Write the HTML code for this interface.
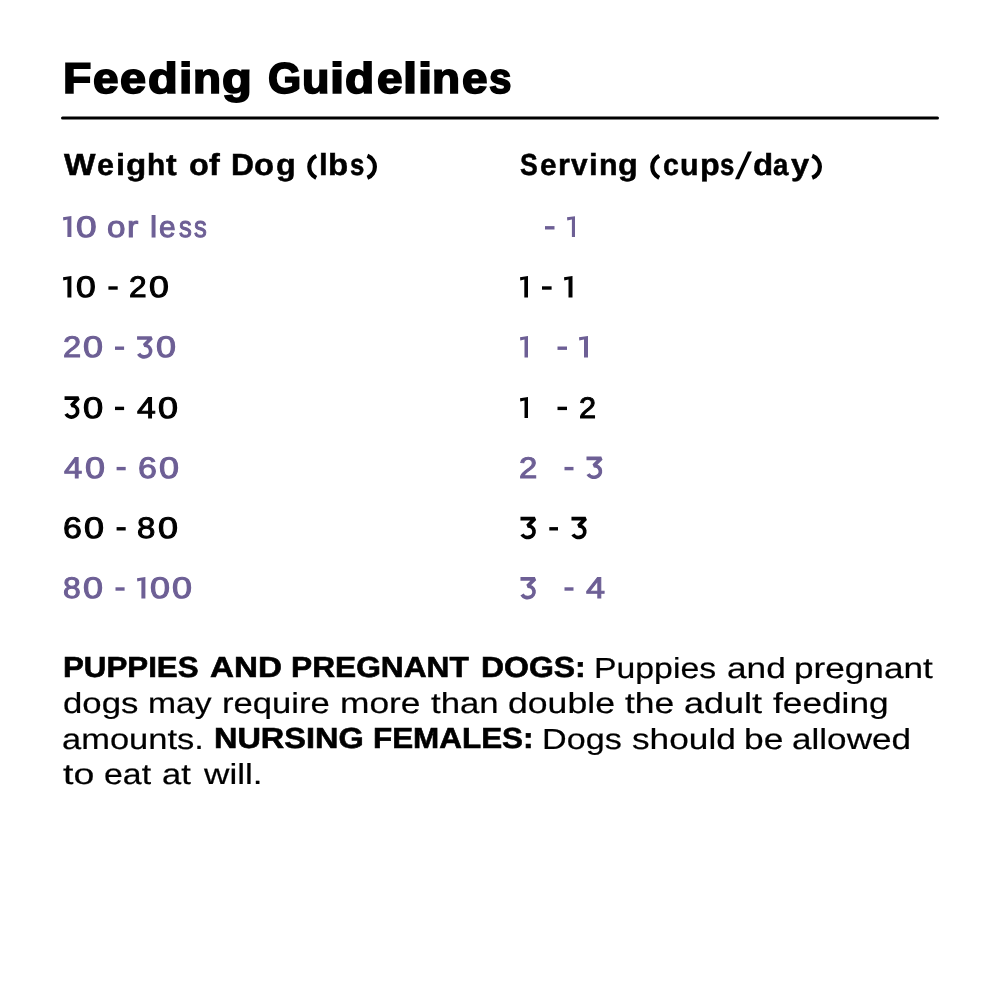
<!DOCTYPE html>
<html><head><meta charset="utf-8"><style>
html,body{margin:0;padding:0;background:#fff;}
body{width:1000px;height:1000px;position:relative;overflow:hidden;font-family:"Liberation Sans",sans-serif;}
span{position:absolute;white-space:pre;line-height:1;transform-origin:0 0;font-kerning:none;text-rendering:geometricPrecision;}
svg{display:block;}
#w{position:absolute;left:0;top:0;width:1000px;height:1000px;will-change:transform;}
</style></head><body><div id="w">
<svg style="position:absolute;left:0;top:0" width="1000" height="200"><line x1="62.5" y1="118" x2="937.5" y2="118" stroke="#000" stroke-width="3" stroke-linecap="round"/></svg>
<span style="left:62.81px;top:58px;font-size:43.02px;font-weight:700;color:#000;transform:scaleX(1.0797);-webkit-text-stroke:1.70px #000">F</span>
<span style="left:92.61px;top:58px;font-size:43.02px;font-weight:700;color:#000;transform:scaleX(1.0679);-webkit-text-stroke:1.70px #000">e</span>
<span style="left:120.09px;top:58px;font-size:43.02px;font-weight:700;color:#000;transform:scaleX(1.0901);-webkit-text-stroke:1.70px #000">e</span>
<span style="left:147.96px;top:58px;font-size:43.02px;font-weight:700;color:#000;transform:scaleX(1.1335);-webkit-text-stroke:1.70px #000">d</span>
<span style="left:178.59px;top:58px;font-size:43.02px;font-weight:700;color:#000;transform:scaleX(1.1180);-webkit-text-stroke:1.70px #000">i</span>
<span style="left:192.88px;top:58px;font-size:43.02px;font-weight:700;color:#000;transform:scaleX(1.0679);-webkit-text-stroke:1.70px #000">n</span>
<span style="left:222.46px;top:58px;font-size:43.02px;font-weight:700;color:#000;transform:scaleX(1.1356);-webkit-text-stroke:1.70px #000">g</span>
<span style="left:267.59px;top:58px;font-size:43.02px;font-weight:700;color:#000;transform:scaleX(0.9925);-webkit-text-stroke:1.70px #000">G</span>
<span style="left:301.60px;top:58px;font-size:43.02px;font-weight:700;color:#000;transform:scaleX(1.0456);-webkit-text-stroke:1.70px #000">u</span>
<span style="left:330.45px;top:58px;font-size:43.02px;font-weight:700;color:#000;transform:scaleX(1.1838);-webkit-text-stroke:1.70px #000">i</span>
<span style="left:345.48px;top:58px;font-size:43.02px;font-weight:700;color:#000;transform:scaleX(1.1122);-webkit-text-stroke:1.70px #000">d</span>
<span style="left:376.61px;top:58px;font-size:43.02px;font-weight:700;color:#000;transform:scaleX(1.0679);-webkit-text-stroke:1.70px #000">e</span>
<span style="left:403.45px;top:58px;font-size:43.02px;font-weight:700;color:#000;transform:scaleX(1.1838);-webkit-text-stroke:1.70px #000">l</span>
<span style="left:417.95px;top:58px;font-size:43.02px;font-weight:700;color:#000;transform:scaleX(1.1838);-webkit-text-stroke:1.70px #000">i</span>
<span style="left:432.38px;top:58px;font-size:43.02px;font-weight:700;color:#000;transform:scaleX(1.0679);-webkit-text-stroke:1.70px #000">n</span>
<span style="left:461.61px;top:58px;font-size:43.02px;font-weight:700;color:#000;transform:scaleX(1.0679);-webkit-text-stroke:1.70px #000">e</span>
<span style="left:489.38px;top:58px;font-size:43.02px;font-weight:700;color:#000;transform:scaleX(0.9396);-webkit-text-stroke:1.70px #000">s</span>
<span style="left:63.84px;top:150px;font-size:30.38px;font-weight:700;color:#000;transform:scaleX(1.0991);-webkit-text-stroke:0.50px #000">W</span>
<span style="left:97.46px;top:150px;font-size:30.38px;font-weight:700;color:#000;transform:scaleX(1.0019);-webkit-text-stroke:0.50px #000">e</span>
<span style="left:116.20px;top:150px;font-size:30.38px;font-weight:700;color:#000;transform:scaleX(1.0710);-webkit-text-stroke:0.50px #000">i</span>
<span style="left:125.91px;top:150px;font-size:30.38px;font-weight:700;color:#000;transform:scaleX(1.0901);-webkit-text-stroke:0.50px #000">g</span>
<span style="left:146.76px;top:150px;font-size:30.38px;font-weight:700;color:#000;transform:scaleX(0.9832);-webkit-text-stroke:0.50px #000">h</span>
<span style="left:166.47px;top:150px;font-size:30.38px;font-weight:700;color:#000;transform:scaleX(1.0532);-webkit-text-stroke:0.50px #000">t</span>
<span style="left:188.60px;top:150px;font-size:30.38px;font-weight:700;color:#000;transform:scaleX(1.0669);-webkit-text-stroke:0.50px #000">o</span>
<span style="left:209.11px;top:150px;font-size:30.38px;font-weight:700;color:#000;transform:scaleX(1.0633);-webkit-text-stroke:0.50px #000">f</span>
<span style="left:230.74px;top:150px;font-size:30.38px;font-weight:700;color:#000;transform:scaleX(1.0454);-webkit-text-stroke:0.50px #000">D</span>
<span style="left:254.19px;top:150px;font-size:30.38px;font-weight:700;color:#000;transform:scaleX(1.0789);-webkit-text-stroke:0.50px #000">o</span>
<span style="left:275.74px;top:150px;font-size:30.38px;font-weight:700;color:#000;transform:scaleX(1.0647);-webkit-text-stroke:0.50px #000">g</span>
<svg style="position:absolute;left:305px;top:152px" width="15" height="30"><path d="M11.20,3.80 A12.22,12.22 0 0 0 11.20,25.80" fill="none" stroke="#000" stroke-width="4.20"/></svg>
<span style="left:319.28px;top:150px;font-size:30.38px;font-weight:700;color:#000;transform:scaleX(1.0282);-webkit-text-stroke:0.50px #000">l</span>
<span style="left:328.49px;top:150px;font-size:30.38px;font-weight:700;color:#000;transform:scaleX(1.0880);-webkit-text-stroke:0.50px #000">b</span>
<span style="left:350.11px;top:150px;font-size:30.38px;font-weight:700;color:#000;transform:scaleX(0.8487);-webkit-text-stroke:0.50px #000">s</span>
<svg style="position:absolute;left:364px;top:152px" width="15" height="30"><path d="M3.40,3.80 A11.82,11.82 0 0 1 3.40,25.80" fill="none" stroke="#000" stroke-width="4.20"/></svg>
<span style="left:519.65px;top:150px;font-size:30.38px;font-weight:700;color:#000;transform:scaleX(0.8769);-webkit-text-stroke:0.50px #000">S</span>
<span style="left:540.09px;top:150px;font-size:30.38px;font-weight:700;color:#000;transform:scaleX(0.9756);-webkit-text-stroke:0.50px #000">e</span>
<span style="left:557.62px;top:150px;font-size:30.38px;font-weight:700;color:#000;transform:scaleX(1.0142);-webkit-text-stroke:0.50px #000">r</span>
<span style="left:571.13px;top:150px;font-size:30.38px;font-weight:700;color:#000;transform:scaleX(0.9800);-webkit-text-stroke:0.50px #000">v</span>
<span style="left:589.48px;top:150px;font-size:30.38px;font-weight:700;color:#000;transform:scaleX(1.0282);-webkit-text-stroke:0.50px #000">i</span>
<span style="left:598.84px;top:150px;font-size:30.38px;font-weight:700;color:#000;transform:scaleX(1.0019);-webkit-text-stroke:0.50px #000">n</span>
<span style="left:618.34px;top:150px;font-size:30.38px;font-weight:700;color:#000;transform:scaleX(1.0647);-webkit-text-stroke:0.50px #000">g</span>
<svg style="position:absolute;left:648px;top:152px" width="15" height="30"><path d="M11.20,3.80 A12.22,12.22 0 0 0 11.20,25.80" fill="none" stroke="#000" stroke-width="4.20"/></svg>
<span style="left:662.92px;top:150px;font-size:30.38px;font-weight:700;color:#000;transform:scaleX(0.9400);-webkit-text-stroke:0.50px #000">c</span>
<span style="left:680.16px;top:150px;font-size:30.38px;font-weight:700;color:#000;transform:scaleX(1.0019);-webkit-text-stroke:0.50px #000">u</span>
<span style="left:699.54px;top:150px;font-size:30.38px;font-weight:700;color:#000;transform:scaleX(1.0627);-webkit-text-stroke:0.50px #000">p</span>
<span style="left:720.31px;top:150px;font-size:30.38px;font-weight:700;color:#000;transform:scaleX(0.8487);-webkit-text-stroke:0.50px #000">s</span>
<svg style="position:absolute;left:734px;top:150px" width="19" height="31"><polygon points="13.90,1.60 17.90,1.60 5.10,29.30 1.00,29.30" fill="#000"/></svg>
<span style="left:752.72px;top:150px;font-size:30.38px;font-weight:700;color:#000;transform:scaleX(1.0880);-webkit-text-stroke:0.50px #000">d</span>
<span style="left:773.22px;top:150px;font-size:30.38px;font-weight:700;color:#000;transform:scaleX(0.9102);-webkit-text-stroke:0.50px #000">a</span>
<span style="left:790.61px;top:150px;font-size:30.38px;font-weight:700;color:#000;transform:scaleX(1.0709);-webkit-text-stroke:0.50px #000">y</span>
<svg style="position:absolute;left:809px;top:152px" width="15" height="30"><path d="M3.20,3.80 A11.71,11.71 0 0 1 3.20,25.80" fill="none" stroke="#000" stroke-width="4.20"/></svg>
<svg style="position:absolute;left:63.40px;top:215.90px" width="8.40" height="21.50" viewBox="0 0 8.40 21.50"><polygon points="0.00,1.30 8.40,0.00 8.40,21.50 4.40,21.50 4.40,3.40 0.30,4.60" fill="#6d5f95"/></svg>
<span style="left:75.97px;top:213px;font-size:29.80px;font-weight:400;color:#6d5f95;transform:scaleX(1.2463);-webkit-text-stroke:1.00px #6d5f95">0</span>
<span style="left:107.26px;top:213px;font-size:29.80px;font-weight:400;color:#6d5f95;transform:scaleX(1.1148);-webkit-text-stroke:1.00px #6d5f95">o</span>
<span style="left:127.42px;top:213px;font-size:29.80px;font-weight:400;color:#6d5f95;transform:scaleX(1.1361);-webkit-text-stroke:1.00px #6d5f95">r</span>
<span style="left:150.47px;top:213px;font-size:29.80px;font-weight:400;color:#6d5f95;transform:scaleX(1.0776);-webkit-text-stroke:1.00px #6d5f95">l</span>
<span style="left:159.43px;top:213px;font-size:29.80px;font-weight:400;color:#6d5f95;transform:scaleX(1.0011);-webkit-text-stroke:1.00px #6d5f95">e</span>
<span style="left:178.52px;top:213px;font-size:29.80px;font-weight:400;color:#6d5f95;transform:scaleX(0.8575);-webkit-text-stroke:1.00px #6d5f95">s</span>
<span style="left:194.12px;top:213px;font-size:29.80px;font-weight:400;color:#6d5f95;transform:scaleX(0.8575);-webkit-text-stroke:1.00px #6d5f95">s</span>
<svg style="position:absolute;left:544px;top:225px" width="12" height="6"><polygon points="1.00,1.10 10.50,1.10 10.50,4.50 1.00,4.50" fill="#6d5f95"/></svg>
<svg style="position:absolute;left:566.60px;top:215.90px" width="8.90" height="21.50" viewBox="0 0 8.90 21.50"><polygon points="0.00,1.30 8.90,0.00 8.90,21.50 4.90,21.50 4.90,3.40 0.30,4.60" fill="#6d5f95"/></svg>
<svg style="position:absolute;left:63.40px;top:276.10px" width="8.40" height="21.50" viewBox="0 0 8.40 21.50"><polygon points="0.00,1.30 8.40,0.00 8.40,21.50 4.40,21.50 4.40,3.40 0.30,4.60" fill="#000"/></svg>
<span style="left:76.01px;top:273px;font-size:29.80px;font-weight:400;color:#000;transform:scaleX(1.1938);-webkit-text-stroke:1.00px #000">0</span>
<svg style="position:absolute;left:107px;top:285px" width="12" height="6"><polygon points="1.40,1.30 10.70,1.30 10.70,4.70 1.40,4.70" fill="#000"/></svg>
<span style="left:129.44px;top:273px;font-size:29.80px;font-weight:400;color:#000;transform:scaleX(1.0634);-webkit-text-stroke:1.00px #000">2</span>
<span style="left:149.10px;top:273px;font-size:29.80px;font-weight:400;color:#000;transform:scaleX(1.2004);-webkit-text-stroke:1.00px #000">0</span>
<svg style="position:absolute;left:519.70px;top:276.10px" width="8.30" height="21.50" viewBox="0 0 8.30 21.50"><polygon points="0.00,1.30 8.30,0.00 8.30,21.50 4.30,21.50 4.30,3.40 0.30,4.60" fill="#000"/></svg>
<svg style="position:absolute;left:541px;top:285px" width="12" height="6"><polygon points="1.00,1.30 10.60,1.30 10.60,4.70 1.00,4.70" fill="#000"/></svg>
<svg style="position:absolute;left:564.00px;top:276.10px" width="8.50" height="21.50" viewBox="0 0 8.50 21.50"><polygon points="0.00,1.30 8.50,0.00 8.50,21.50 4.50,21.50 4.50,3.40 0.30,4.60" fill="#000"/></svg>
<span style="left:62.70px;top:333px;font-size:29.80px;font-weight:400;color:#6d5f95;transform:scaleX(1.0977);-webkit-text-stroke:1.00px #6d5f95">2</span>
<span style="left:83.00px;top:333px;font-size:29.80px;font-weight:400;color:#6d5f95;transform:scaleX(1.2069);-webkit-text-stroke:1.00px #6d5f95">0</span>
<svg style="position:absolute;left:114px;top:345px" width="12" height="6"><polygon points="1.00,1.50 10.10,1.50 10.10,4.90 1.00,4.90" fill="#6d5f95"/></svg>
<svg style="position:absolute;left:134px;top:334px" width="22" height="28"><path d="M3.08,4.02 L17.48,4.02 L10.25,11.25 A6.40,5.79 0 1 1 4.60,19.76" fill="none" stroke="#6d5f95" stroke-width="3.70" stroke-linejoin="bevel"/></svg>
<span style="left:155.80px;top:333px;font-size:29.80px;font-weight:400;color:#6d5f95;transform:scaleX(1.2069);-webkit-text-stroke:1.00px #6d5f95">0</span>
<svg style="position:absolute;left:519.50px;top:336.30px" width="8.50" height="21.50" viewBox="0 0 8.50 21.50"><polygon points="0.00,1.30 8.50,0.00 8.50,21.50 4.50,21.50 4.50,3.40 0.30,4.60" fill="#6d5f95"/></svg>
<svg style="position:absolute;left:556px;top:345px" width="13" height="6"><polygon points="1.50,1.50 11.00,1.50 11.00,4.90 1.50,4.90" fill="#6d5f95"/></svg>
<svg style="position:absolute;left:579.00px;top:336.30px" width="9.00" height="21.50" viewBox="0 0 9.00 21.50"><polygon points="0.00,1.30 9.00,0.00 9.00,21.50 5.00,21.50 5.00,3.40 0.30,4.60" fill="#6d5f95"/></svg>
<svg style="position:absolute;left:62px;top:394px" width="21" height="28"><path d="M2.56,4.22 L16.42,4.22 L9.46,11.45 A6.16,5.79 0 1 1 4.02,19.96" fill="none" stroke="#000" stroke-width="3.70" stroke-linejoin="bevel"/></svg>
<span style="left:82.59px;top:394px;font-size:29.80px;font-weight:400;color:#000;transform:scaleX(1.2201);-webkit-text-stroke:1.00px #000">0</span>
<svg style="position:absolute;left:114px;top:405px" width="12" height="7"><polygon points="1.00,1.70 10.10,1.70 10.10,5.10 1.00,5.10" fill="#000"/></svg>
<span style="left:136.69px;top:394px;font-size:29.80px;font-weight:400;color:#000;transform:scaleX(1.1301);-webkit-text-stroke:1.00px #000">4</span>
<span style="left:158.20px;top:394px;font-size:29.80px;font-weight:400;color:#000;transform:scaleX(1.2069);-webkit-text-stroke:1.00px #000">0</span>
<svg style="position:absolute;left:519.50px;top:396.50px" width="8.50" height="21.50" viewBox="0 0 8.50 21.50"><polygon points="0.00,1.30 8.50,0.00 8.50,21.50 4.50,21.50 4.50,3.40 0.30,4.60" fill="#000"/></svg>
<svg style="position:absolute;left:556px;top:405px" width="13" height="7"><polygon points="1.50,1.70 11.00,1.70 11.00,5.10 1.50,5.10" fill="#000"/></svg>
<span style="left:578.97px;top:394px;font-size:29.80px;font-weight:400;color:#000;transform:scaleX(1.0291);-webkit-text-stroke:1.00px #000">2</span>
<span style="left:63.60px;top:454px;font-size:29.80px;font-weight:400;color:#6d5f95;transform:scaleX(1.0989);-webkit-text-stroke:1.00px #6d5f95">4</span>
<span style="left:84.60px;top:454px;font-size:29.80px;font-weight:400;color:#6d5f95;transform:scaleX(1.2069);-webkit-text-stroke:1.00px #6d5f95">0</span>
<svg style="position:absolute;left:115px;top:465px" width="12" height="7"><polygon points="1.60,1.90 10.70,1.90 10.70,5.30 1.60,5.30" fill="#6d5f95"/></svg>
<span style="left:137.85px;top:454px;font-size:29.80px;font-weight:400;color:#6d5f95;transform:scaleX(1.1389);-webkit-text-stroke:1.00px #6d5f95">6</span>
<span style="left:159.00px;top:454px;font-size:29.80px;font-weight:400;color:#6d5f95;transform:scaleX(1.2069);-webkit-text-stroke:1.00px #6d5f95">0</span>
<span style="left:518.80px;top:454px;font-size:29.80px;font-weight:400;color:#6d5f95;transform:scaleX(1.1046);-webkit-text-stroke:1.00px #6d5f95">2</span>
<svg style="position:absolute;left:563px;top:465px" width="12" height="7"><polygon points="1.50,1.90 10.50,1.90 10.50,5.30 1.50,5.30" fill="#6d5f95"/></svg>
<svg style="position:absolute;left:584px;top:454px" width="22" height="28"><path d="M2.49,4.42 L17.25,4.42 L9.84,11.65 A6.56,5.79 0 1 1 4.05,20.16" fill="none" stroke="#6d5f95" stroke-width="3.70" stroke-linejoin="bevel"/></svg>
<span style="left:62.65px;top:514px;font-size:29.80px;font-weight:400;color:#000;transform:scaleX(1.1389);-webkit-text-stroke:1.00px #000">6</span>
<span style="left:83.80px;top:514px;font-size:29.80px;font-weight:400;color:#000;transform:scaleX(1.2069);-webkit-text-stroke:1.00px #000">0</span>
<svg style="position:absolute;left:115px;top:526px" width="12" height="6"><polygon points="1.60,1.10 10.70,1.10 10.70,4.50 1.60,4.50" fill="#000"/></svg>
<span style="left:137.02px;top:514px;font-size:29.80px;font-weight:400;color:#000;transform:scaleX(1.1079);-webkit-text-stroke:1.00px #000">8</span>
<span style="left:157.70px;top:514px;font-size:29.80px;font-weight:400;color:#000;transform:scaleX(1.2069);-webkit-text-stroke:1.00px #000">0</span>
<svg style="position:absolute;left:518px;top:514px" width="22" height="28"><path d="M2.48,4.62 L16.88,4.62 L9.65,11.85 A6.40,5.79 0 1 1 4.00,20.36" fill="none" stroke="#000" stroke-width="3.70" stroke-linejoin="bevel"/></svg>
<svg style="position:absolute;left:548px;top:526px" width="12" height="6"><polygon points="1.30,1.10 10.00,1.10 10.00,4.50 1.30,4.50" fill="#000"/></svg>
<svg style="position:absolute;left:569px;top:514px" width="21" height="28"><path d="M2.47,4.62 L16.60,4.62 L9.50,11.85 A6.28,5.79 0 1 1 3.96,20.36" fill="none" stroke="#000" stroke-width="3.70" stroke-linejoin="bevel"/></svg>
<span style="left:62.95px;top:574px;font-size:29.80px;font-weight:400;color:#6d5f95;transform:scaleX(1.0679);-webkit-text-stroke:1.00px #6d5f95">8</span>
<span style="left:83.00px;top:574px;font-size:29.80px;font-weight:400;color:#6d5f95;transform:scaleX(1.2069);-webkit-text-stroke:1.00px #6d5f95">0</span>
<svg style="position:absolute;left:114px;top:586px" width="12" height="6"><polygon points="1.50,1.30 10.60,1.30 10.60,4.70 1.50,4.70" fill="#6d5f95"/></svg>
<svg style="position:absolute;left:137.40px;top:577.10px" width="8.40" height="21.50" viewBox="0 0 8.40 21.50"><polygon points="0.00,1.30 8.40,0.00 8.40,21.50 4.40,21.50 4.40,3.40 0.30,4.60" fill="#6d5f95"/></svg>
<span style="left:150.00px;top:574px;font-size:29.80px;font-weight:400;color:#6d5f95;transform:scaleX(1.2069);-webkit-text-stroke:1.00px #6d5f95">0</span>
<span style="left:171.80px;top:574px;font-size:29.80px;font-weight:400;color:#6d5f95;transform:scaleX(1.2069);-webkit-text-stroke:1.00px #6d5f95">0</span>
<svg style="position:absolute;left:518px;top:575px" width="22" height="28"><path d="M2.48,3.82 L16.88,3.82 L9.65,11.05 A6.40,5.79 0 1 1 4.00,19.56" fill="none" stroke="#6d5f95" stroke-width="3.70" stroke-linejoin="bevel"/></svg>
<svg style="position:absolute;left:563px;top:586px" width="12" height="6"><polygon points="1.50,1.30 10.50,1.30 10.50,4.70 1.50,4.70" fill="#6d5f95"/></svg>
<span style="left:585.79px;top:574px;font-size:29.80px;font-weight:400;color:#6d5f95;transform:scaleX(1.1488);-webkit-text-stroke:1.00px #6d5f95">4</span>
<span style="left:63.13px;top:654px;font-size:29.00px;font-weight:700;color:#000;transform:scaleX(1.0784);-webkit-text-stroke:0.60px #000">PUPPIES</span>
<span style="left:209.52px;top:654px;font-size:29.00px;font-weight:700;color:#000;transform:scaleX(1.1433);-webkit-text-stroke:0.60px #000">AND</span>
<span style="left:291.01px;top:654px;font-size:29.00px;font-weight:700;color:#000;transform:scaleX(1.0926);-webkit-text-stroke:0.60px #000">PREGNANT</span>
<span style="left:481.39px;top:654px;font-size:29.00px;font-weight:700;color:#000;transform:scaleX(1.1020);-webkit-text-stroke:0.60px #000">DOGS:</span>
<span style="left:594.35px;top:655px;font-size:29.00px;font-weight:400;color:#000;transform:scaleX(1.1647);-webkit-text-stroke:0.20px #000">Puppies</span>
<span style="left:726.92px;top:655px;font-size:29.00px;font-weight:400;color:#000;transform:scaleX(1.2158);-webkit-text-stroke:0.20px #000">and</span>
<span style="left:794.36px;top:655px;font-size:29.00px;font-weight:400;color:#000;transform:scaleX(1.2122);-webkit-text-stroke:0.20px #000">pregnant</span>
<span style="left:63.16px;top:690px;font-size:29.00px;font-weight:400;color:#000;transform:scaleX(1.1986);-webkit-text-stroke:0.20px #000">dogs</span>
<span style="left:147.88px;top:690px;font-size:29.00px;font-weight:400;color:#000;transform:scaleX(1.1603);-webkit-text-stroke:0.20px #000">may</span>
<span style="left:222.22px;top:690px;font-size:29.00px;font-weight:400;color:#000;transform:scaleX(1.1930);-webkit-text-stroke:0.20px #000">require</span>
<span style="left:340.38px;top:690px;font-size:29.00px;font-weight:400;color:#000;transform:scaleX(1.2179);-webkit-text-stroke:0.20px #000">more</span>
<span style="left:430.99px;top:690px;font-size:29.00px;font-weight:400;color:#000;transform:scaleX(1.1985);-webkit-text-stroke:0.20px #000">than</span>
<span style="left:508.03px;top:690px;font-size:29.00px;font-weight:400;color:#000;transform:scaleX(1.2279);-webkit-text-stroke:0.20px #000">double</span>
<span style="left:625.19px;top:690px;font-size:29.00px;font-weight:400;color:#000;transform:scaleX(1.2221);-webkit-text-stroke:0.20px #000">the</span>
<span style="left:683.60px;top:690px;font-size:29.00px;font-weight:400;color:#000;transform:scaleX(1.2411);-webkit-text-stroke:0.20px #000">adult</span>
<span style="left:773.12px;top:690px;font-size:29.00px;font-weight:400;color:#000;transform:scaleX(1.2153);-webkit-text-stroke:0.20px #000">feeding</span>
<span style="left:62.25px;top:726px;font-size:29.00px;font-weight:400;color:#000;transform:scaleX(1.1885);-webkit-text-stroke:0.20px #000">amounts.</span>
<span style="left:213.57px;top:725px;font-size:29.00px;font-weight:700;color:#000;transform:scaleX(1.1188);-webkit-text-stroke:0.60px #000">NURSING</span>
<span style="left:373.22px;top:725px;font-size:29.00px;font-weight:700;color:#000;transform:scaleX(1.0827);-webkit-text-stroke:0.60px #000">FEMALES:</span>
<span style="left:541.92px;top:726px;font-size:29.00px;font-weight:400;color:#000;transform:scaleX(1.1772);-webkit-text-stroke:0.20px #000">Dogs</span>
<span style="left:632.14px;top:726px;font-size:29.00px;font-weight:400;color:#000;transform:scaleX(1.2147);-webkit-text-stroke:0.20px #000">should</span>
<span style="left:744.14px;top:726px;font-size:29.00px;font-weight:400;color:#000;transform:scaleX(1.2185);-webkit-text-stroke:0.20px #000">be</span>
<span style="left:792.43px;top:726px;font-size:29.00px;font-weight:400;color:#000;transform:scaleX(1.2102);-webkit-text-stroke:0.20px #000">allowed</span>
<span style="left:63.36px;top:761px;font-size:29.00px;font-weight:400;color:#000;transform:scaleX(1.2935);-webkit-text-stroke:0.20px #000">to</span>
<span style="left:104.48px;top:761px;font-size:29.00px;font-weight:400;color:#000;transform:scaleX(1.1671);-webkit-text-stroke:0.20px #000">eat</span>
<span style="left:162.05px;top:761px;font-size:29.00px;font-weight:400;color:#000;transform:scaleX(1.1900);-webkit-text-stroke:0.20px #000">at</span>
<span style="left:204.07px;top:761px;font-size:29.00px;font-weight:400;color:#000;transform:scaleX(1.2129);-webkit-text-stroke:0.20px #000">will.</span>
</div></body></html>
